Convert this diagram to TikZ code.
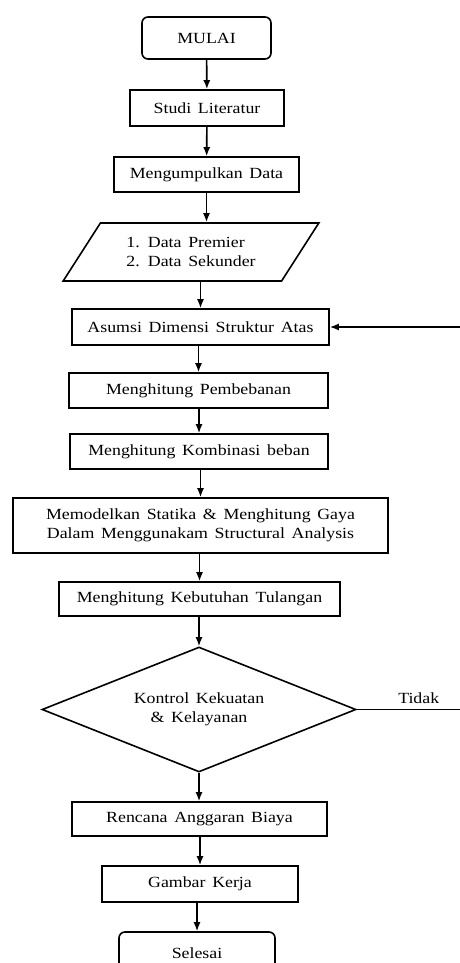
\documentclass[tikz,border=0pt]{standalone}
\usepackage{fontspec}
\setmainfont{Liberation Serif}[FakeStretch=1.15,WordSpace=1.5]
\usetikzlibrary{shapes.geometric,arrows.meta}
\tikzset{>={Latex[length=9pt,width=7pt]}}
\tikzset{
  proses/.style={draw,line width=1.6pt,rectangle,inner sep=0pt,align=center},
  terminal/.style={proses,rounded corners=6pt},
  masukan/.style={draw,line width=1.6pt,trapezium,trapezium left angle=48,trapezium right angle=132,trapezium stretches=true,inner sep=0pt,align=left},
  keputusan/.style={draw,line width=1.6pt,diamond,aspect=2.5,inner sep=0pt,align=center},
  alur/.style={->,line width=1.6pt}
}

\begin{document}
\begin{tikzpicture}[x=1pt,y=1pt,every node/.style={font=\fontsize{15.5}{19}\selectfont}]
\useasboundingbox (0,0) rectangle (460,-963);
\node[terminal,minimum width=129,minimum height=42] (mulai) at (206.5,-38) {MULAI};
\node[proses,minimum width=154,minimum height=36] (studi) at (207,-108) {Studi Literatur};
\node[proses,minimum width=185,minimum height=35] (kumpul) at (206.5,-174.5) {Mengumpulkan Data};
\node[masukan,minimum width=256,minimum height=58] (data) at (191,-252) {1. Data Premier\\2. Data Sekunder};
\node[proses,minimum width=257,minimum height=36] (asumsi) at (200.5,-327) {Asumsi Dimensi Struktur Atas};
\node[proses,minimum width=259,minimum height=35] (beban) at (198.5,-390.5) {Menghitung Pembebanan};
\node[proses,minimum width=258,minimum height=35] (kombinasi) at (199,-451.5) {Menghitung Kombinasi beban};
\node[proses,minimum width=375,minimum height=55] (model) at (200.5,-525.5) {Memodelkan Statika \& Menghitung Gaya\\Dalam Menggunakam Structural Analysis};
\node[proses,minimum width=281,minimum height=34] (tulangan) at (199.5,-599) {Menghitung Kebutuhan Tulangan};
\node[keputusan,minimum width=314,minimum height=125] (kontrol) at (199,-709.5) {Kontrol Kekuatan\\\& Kelayanan};
\node[proses,minimum width=255,minimum height=34] (rab) at (199.5,-819) {Rencana Anggaran Biaya};
\node[proses,minimum width=196,minimum height=36] (gambar) at (200,-884) {Gambar Kerja};
\node[terminal,minimum width=156,minimum height=42] (selesai) at (197,-953) {Selesai};
\coordinate (balik) at (460,-327);
\coordinate (tidak) at (460,-709.5);

\draw[alur] (mulai) -- (studi);
\draw[alur] (studi) -- (kumpul);
\draw[alur] (kumpul.south) -- (kumpul.south |- data.north);
\draw[alur] (data.south -| asumsi.north) -- (asumsi.north);
\draw[alur] (asumsi.south -| beban.north) -- (beban.north);
\draw[alur] (beban.south -| kombinasi.north) -- (kombinasi.north);
\draw[alur] (kombinasi.south -| model.north) -- (model.north);
\draw[alur] (model.south -| tulangan.north) -- (tulangan.north);
\draw[alur] (tulangan.south -| kontrol.north) -- (kontrol.north);
\draw[alur] (kontrol.south) -- (kontrol.south |- rab.north);
\draw[alur] (rab.south -| gambar.north) -- (gambar.north);
\draw[alur] (gambar.south -| selesai.north) -- (selesai.north);
\draw[line width=1.6pt] (kontrol.east) -- node[pos=0.6,above=2pt] {Tidak} (tidak);
\draw[alur] (balik) -- (asumsi.east);
\end{tikzpicture}
\end{document}
